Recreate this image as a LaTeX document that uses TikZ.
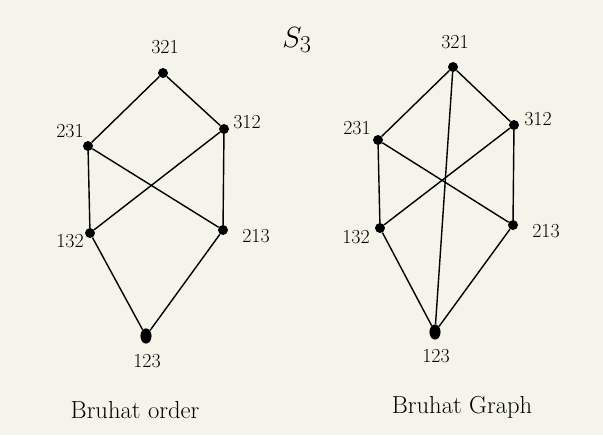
\documentclass[tikz,border=0pt]{standalone}
\usepackage{tikz}
\usetikzlibrary{positioning,shapes.geometric}
\definecolor{paper}{HTML}{F4F4EA}

\begin{document}
\begin{tikzpicture}[x=0.03cm,y=-0.03cm,
  pt/.style={circle,fill=black,inner sep=0pt,minimum size=8.5pt},
  bigpt/.style={ellipse,fill=black,inner sep=0pt,minimum width=9.5pt,minimum height=13pt},
  lb/.style={font=\fontsize{17}{19}\selectfont,inner sep=1pt},
  caption/.style={font=\fontsize{21}{25}\selectfont},
  ed/.style={line width=1.2pt,black}]
\fill[paper] (0,0) rectangle (603,435);
\useasboundingbox (0,0) rectangle (603,435);
% ---------------- title
\node[font=\fontsize{28}{32}\selectfont] (ttl) at (297,40) {$S_3$};
% ---------------- left: order
\node[pt] (l321) at (163,73) {};
\node[pt] (l231) at (88,146) {};
\node[pt] (l312) at (224,129) {};
\node[pt] (l132) at (90,233) {};
\node[pt] (l213) at (223,230) {};
\node[bigpt] (l123) at (146,336) {};
\foreach \x/\y in {l321/l231,l321/l312,l231/l132,l231/l213,l312/l132,l312/l213,l132/l123,l213/l123}
  \draw[ed] (\x) -- (\y);
\node[lb] (t321) at (165,47) {321};
\node[lb] (t231) at (70,131) {231};
\node[lb] (t312) at (247,122) {312};
\node[lb] (t132) at (70,241) {132};
\node[lb] (t213) at (256,236) {213};
\node[lb] (t123) at (147,361) {123};
\node[caption] (lcap) at (135,410) {Bruhat order};
% ---------------- right: graph
\node[pt] (r321) at (453,67) {};
\node[pt] (r231) at (378,140) {};
\node[pt] (r312) at (514,125) {};
\node[pt] (r132) at (380,228) {};
\node[pt] (r213) at (513,225) {};
\node[bigpt] (r123) at (435,332) {};
\foreach \x/\y in {r321/r231,r321/r312,r321/r123,r231/r132,r231/r213,r312/r132,r312/r213,r132/r123,r213/r123}
  \draw[ed] (\x) -- (\y);
\node[lb] (s321) at (455,42) {321};
\node[lb] (s231) at (357,128) {231};
\node[lb] (s312) at (538,119) {312};
\node[lb] (s132) at (356,237) {132};
\node[lb] (s213) at (546,231) {213};
\node[lb] (s123) at (436,356) {123};
\node[caption] (rcap) at (462,407) {Bruhat Graph};
\end{tikzpicture}
\end{document}
